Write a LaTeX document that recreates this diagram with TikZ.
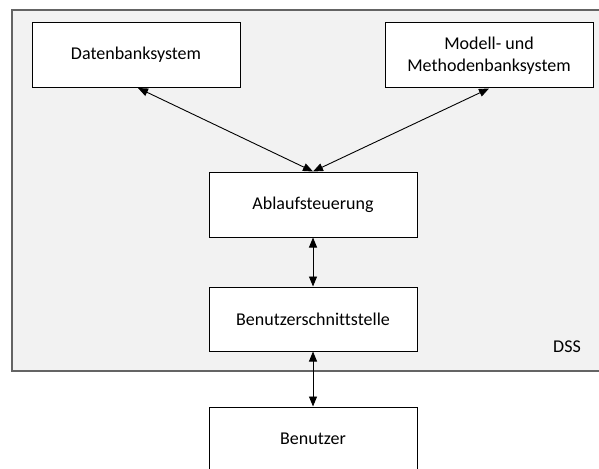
\documentclass[tikz,border=0pt]{standalone}
\usepackage{fontspec}
\setmainfont{Carlito}[Ligatures=NoCommon]
\usetikzlibrary{arrows.meta}
\begin{document}
\begin{tikzpicture}[x=1pt,y=-1pt,
  font=\fontsize{18}{22}\selectfont,
  box/.style={draw=black,fill=white,line width=1pt,inner sep=0pt,align=center},
  link/.style={line width=0.9pt,{Triangle[length=10pt,width=8pt]}-{Triangle[length=10pt,width=8pt]}}]
  \useasboundingbox (0,0) rectangle (599,468);
  \begin{scope}
    \clip (0,0) rectangle (599,468);
    % DSS frame
    \draw[fill={rgb,255:red,242;green,242;blue,242},draw={rgb,255:red,100;green,100;blue,100},line width=1.2pt]
      (12,10) rectangle (610,371);
    \node[anchor=center] (dss) at (567,347) {DSS};
    % components
    \node[box,minimum width=208pt,minimum height=65pt] (db) at (136,55) {Datenbanksystem};
    \node[box,minimum width=208pt,minimum height=65pt] (mb) at (489,55.5) {Modell- und\\Methodenbanksystem};
    \node[box,minimum width=208pt,minimum height=65pt] (ab) at (313,204.5) {Ablaufsteuerung};
    \node[box,minimum width=208pt,minimum height=64pt] (bs) at (313,319) {Benutzerschnittstelle};
    \node[box,minimum width=208pt,minimum height=90pt] (bn) at (313,452) {};
    \node (bnl) at (313,439) {Benutzer};
    % connectors
    \draw[link] (db.south) ++(2,0) coordinate (dbx) -- (ab.north);
    \draw[link] (mb.south) -- (ab.north);
    \draw[link] (ab.south) -- (bs.north);
    \draw[link] (bs.south) -- (bn.north);
  \end{scope}
\end{tikzpicture}
\end{document}
